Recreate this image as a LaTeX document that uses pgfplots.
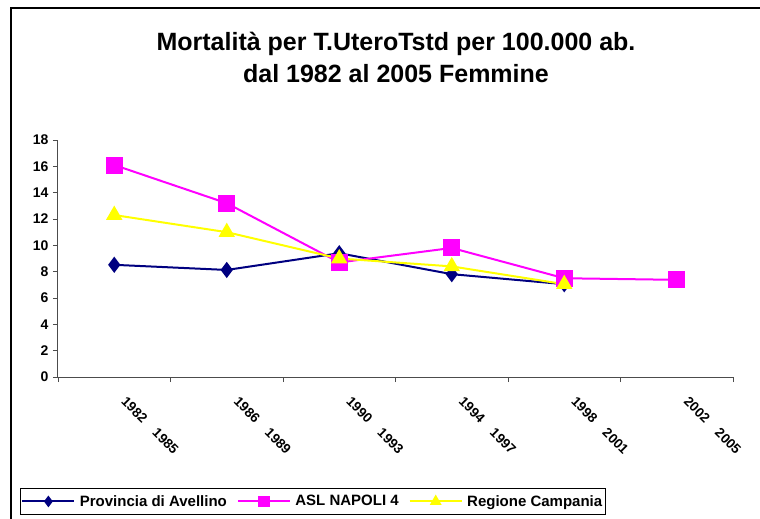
\documentclass[border=0pt]{standalone}
\usepackage{fontspec}
\setmainfont{Liberation Sans}
\usepackage{pgfplots}
\pgfplotsset{compat=1.18}
\definecolor{cNavy}{RGB}{0,0,128}
\definecolor{cMag}{RGB}{255,0,255}
\definecolor{cYel}{RGB}{255,255,0}
\begin{document}
\begin{tikzpicture}
\begin{axis}[
  scale only axis, width=675pt, height=237pt,
  xmin=0, xmax=6, ymin=0, ymax=18,
  axis x line=bottom, axis y line=left,
  axis line style={-, draw=black!70, line width=1pt},
  ytick={0,2,...,18},
  xtick={0.5,1.5,2.5,3.5,4.5,5.5},
  xticklabels={1982\hspace{14pt}1985,1986\hspace{14pt}1989,1990\hspace{14pt}1993,1994\hspace{14pt}1997,1998\hspace{14pt}2001,2002\hspace{14pt}2005},
  minor xtick={0,1,...,6},
  tick align=outside,
  major tick length=5pt, minor tick length=5pt,
  x tick style={draw=none},
  minor x tick style={draw=black!70, line width=0.8pt},
  y tick style={draw=black!70, line width=0.8pt},
  /pgf/number format/assume math mode=true,
  yticklabel style={font=\bfseries\fontsize{14}{14}\selectfont, xshift=-1pt},
  xticklabel style={font=\bfseries\fontsize{13.5}{13.5}\selectfont, xshift=13pt, yshift=-9pt, rotate=-45, anchor=north west},
  clip=false,
  legend columns=3,
  legend style={at={(-0.0563,-0.5823)}, anchor=south west, draw=black, line width=0.8pt,
    font=\bfseries\fontsize{15}{15}\selectfont, inner xsep=1pt, inner ysep=5pt,
    nodes={inner sep=2pt},
    /tikz/every odd column/.append style={column sep=2.5pt},
    /tikz/every even column/.append style={column sep=8pt}},
  legend image code/.code={\draw[mark repeat=2,mark phase=2, every mark/.append style={scale=0.65}] plot coordinates {(0pt,0pt)(26pt,0pt)(52pt,0pt)};},
]
\addplot[cNavy, line width=2pt, mark=diamond*, mark size=6.5pt, mark options={solid, fill=cNavy, draw=cNavy}]
  coordinates {(0.5,8.52) (1.5,8.13) (2.5,9.4) (3.5,7.81) (4.5,7.05)};
\addlegendentry{Provincia di Avellino}
\addplot[cMag, line width=2pt, mark=square*, mark size=7.5pt, mark options={solid, fill=cMag, draw=cMag}]
  coordinates {(0.5,16.1) (1.5,13.2) (2.5,8.7) (3.5,9.8) (4.5,7.5) (5.5,7.38)};
\addlegendentry{ASL NAPOLI 4}
\addplot[cYel, line width=2pt, mark=triangle*, mark size=7.5pt, mark options={solid, fill=cYel, draw=cYel}]
  coordinates {(0.5,12.3) (1.5,11.0) (2.5,9.0) (3.5,8.4) (4.5,7.05)};
\addlegendentry{Regione Campania}
\end{axis}
\begin{scope}[x=1pt,y=1pt]
\path[use as bounding box] (-58,-142) rectangle (702,377);
\draw[line width=1.5pt] (-47,-142) -- (-47,369) -- (702,369);
\node[font=\bfseries\fontsize{25}{25}\selectfont, anchor=base] at (338,326.3) {Mortalità per T.UteroTstd per 100.000 ab.};
\node[font=\bfseries\fontsize{25}{25}\selectfont, anchor=base] at (338,294.3) {dal 1982 al 2005 Femmine};
\end{scope}
\end{tikzpicture}
\end{document}
